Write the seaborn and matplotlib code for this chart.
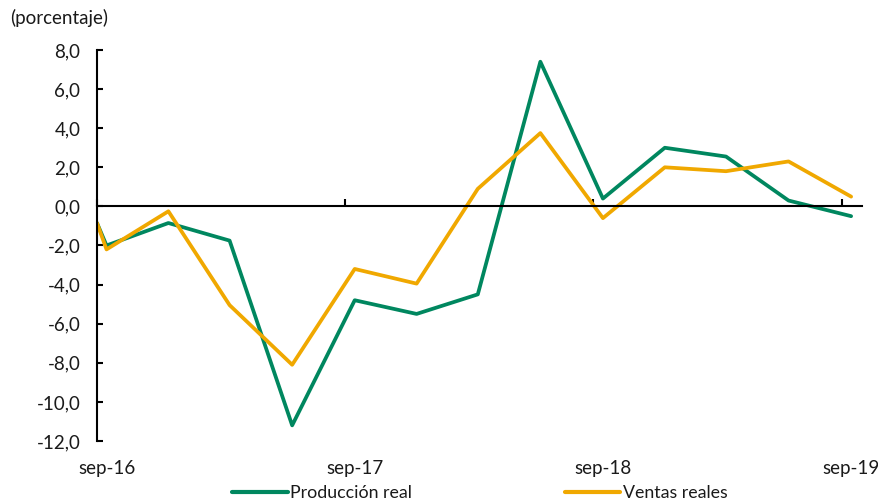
import matplotlib
matplotlib.use("Agg")
import matplotlib.pyplot as plt
import matplotlib.dates as mdates
from matplotlib.lines import Line2D
import seaborn as sns
import pandas as pd
import numpy as np

# ---- data ----
fechas = ["2016-09-01", "2016-09-15", "2016-12-15", "2017-03-15", "2017-06-15",
          "2017-09-15", "2017-12-15", "2018-03-15", "2018-06-15", "2018-09-15",
          "2018-12-15", "2019-03-15", "2019-06-15", "2019-09-15"]
produccion = [-0.85, -2.0, -0.85, -1.75, -11.2, -4.8, -5.5, -4.5, 7.4, 0.4,
              3.0, 2.55, 0.3, -0.5]
ventas = [-0.85, -2.2, -0.25, -5.05, -8.1, -3.2, -3.95, 0.9, 3.75, -0.6,
          2.0, 1.8, 2.3, 0.5]
series = ["Producción real", "Ventas reales"]
colores = ["#00875F", "#F0A800"]
etiquetas_x = ["sep-16", "sep-17", "sep-18", "sep-19"]
pos_etiquetas = ["2016-09-15", "2017-09-15", "2018-09-15", "2019-09-15"]
marcas_x = ["2016-09-01", "2017-09-01", "2018-09-01", "2019-09-01"]
yticks = np.arange(-12, 9, 2)

df = pd.DataFrame({
    "fecha": pd.to_datetime(fechas * 2),
    "valor": produccion + ventas,
    "serie": [series[0]] * len(fechas) + [series[1]] * len(fechas),
})

sns.set_theme(style="white")
plt.rcParams['font.family'] = ['Lato', 'DejaVu Sans']
FS = 13.5

fig = plt.figure(figsize=(8.79, 5.03), dpi=100)
ax = fig.add_axes([97 / 879, 1 - 441 / 503, (862 - 97) / 879, (441 - 50) / 503])

sns.lineplot(data=df, x="fecha", y="valor", hue="serie", palette=colores,
             linewidth=2.7, ax=ax, legend=False, sort=False, estimator=None)

ax.set_xlim(pd.Timestamp("2016-09-01"), pd.Timestamp("2019-10-01"))
ax.set_ylim(-12, 8)
ax.set_yticks(yticks)
ax.set_yticklabels([f"{v:.1f}".replace(".", ",") for v in yticks])
ax.set_xticks(mdates.date2num(pd.to_datetime(marcas_x)))
ax.set_xlabel("")
ax.set_ylabel("")

for s in ["top", "right"]:
    ax.spines[s].set_visible(False)
ax.spines["left"].set_color("black")
ax.spines["left"].set_linewidth(1.5)
ax.spines["bottom"].set_color("black")
ax.spines["bottom"].set_linewidth(1.5)
ax.spines["bottom"].set_position(("data", 0))

ax.tick_params(axis="x", direction="in", length=5, width=1.5, color="black",
               labelbottom=False, bottom=True)
ax.tick_params(axis="y", direction="in", length=4, width=1.5, color="black",
               labelsize=FS, pad=12, left=True, labelcolor="#1a1a1a")

for lab, pos in zip(etiquetas_x, pd.to_datetime(pos_etiquetas)):
    ax.text(mdates.date2num(pos), -0.07, lab, transform=ax.get_xaxis_transform(),
            ha="center", va="center", fontsize=FS, color="#1a1a1a")

fig.text(10 / 879, 1 - 18 / 503, "(porcentaje)", ha="left", va="center",
         fontsize=FS, color="#1a1a1a")

handles = [Line2D([0], [0], color=c, linewidth=3) for c in colores]
fig.legend(handles, series, loc="center", bbox_to_anchor=(480 / 879, 1 - 493 / 503),
           ncol=2, frameon=False, handlelength=3.1, handletextpad=0.15,
           columnspacing=8.6, fontsize=12.8, labelcolor="#1a1a1a")

fig.savefig("out.png", dpi=100, facecolor="white")
